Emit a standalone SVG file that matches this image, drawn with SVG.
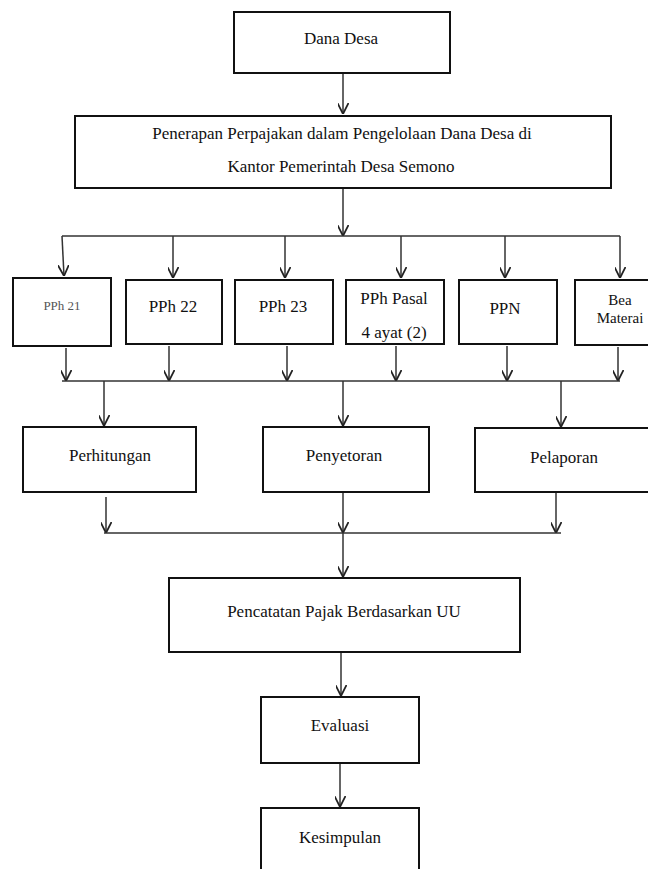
<svg xmlns="http://www.w3.org/2000/svg" width="648" height="869" viewBox="0 0 648 869">
<defs>
<marker id="ah" viewBox="0 0 10 10" refX="10" refY="5" markerWidth="11" markerHeight="11" markerUnits="userSpaceOnUse" orient="auto">
<path d="M0,0 L10,5 L0,10" fill="none" stroke="#222" stroke-width="1.6"/>
</marker>
<style>
.box{fill:#fff;stroke:#111;stroke-width:2}
.t{font-family:"Liberation Serif","Times New Roman",serif;font-size:17px;fill:#111;text-anchor:middle}
.s{font-size:13px;fill:#555}
.m{font-size:15px}
.c{fill:none;stroke:#333;stroke-width:1.5}
.a{marker-end:url(#ah)}
</style>
</defs>
<rect width="648" height="869" fill="#fff"/>
<g id="connectors">
<line class="c a" x1="343" y1="73" x2="343" y2="114"/>
<line class="c a" x1="343" y1="188" x2="343" y2="236"/>
<line class="c" x1="62" y1="236" x2="620" y2="236"/>
<path class="c a" d="M62,236 L64,276"/>
<line class="c a" x1="173" y1="236" x2="173" y2="278"/>
<line class="c a" x1="285" y1="236" x2="285" y2="278"/>
<line class="c a" x1="401" y1="236" x2="401" y2="278"/>
<line class="c a" x1="505" y1="236" x2="505" y2="278"/>
<line class="c a" x1="620" y1="236" x2="620" y2="278"/>
<line class="c a" x1="66" y1="348" x2="66" y2="381"/>
<line class="c a" x1="169" y1="346" x2="169" y2="381"/>
<line class="c a" x1="287" y1="346" x2="287" y2="381"/>
<line class="c a" x1="396" y1="346" x2="396" y2="381"/>
<line class="c a" x1="507" y1="346" x2="507" y2="381"/>
<line class="c a" x1="618" y1="347" x2="618" y2="381"/>
<line class="c" x1="62" y1="381" x2="620" y2="381"/>
<line class="c a" x1="104" y1="381" x2="104" y2="426"/>
<line class="c a" x1="343" y1="381" x2="343" y2="426"/>
<line class="c a" x1="561" y1="381" x2="561" y2="427"/>
<line class="c a" x1="106" y1="497" x2="106" y2="533"/>
<line class="c a" x1="343" y1="492" x2="343" y2="533"/>
<line class="c a" x1="556" y1="493" x2="556" y2="533"/>
<line class="c" x1="104" y1="533" x2="561" y2="533"/>
<line class="c a" x1="343" y1="533" x2="343" y2="577"/>
<line class="c a" x1="341" y1="652" x2="341" y2="696"/>
<line class="c a" x1="340" y1="763" x2="340" y2="807"/>
</g>
<g id="dana-desa"><rect class="box" x="234" y="12" width="216" height="61"/><text class="t" x="341" y="44">Dana Desa</text></g>
<g id="penerapan"><rect class="box" x="75" y="116" width="536" height="72"/><text class="t" x="342" y="139">Penerapan Perpajakan dalam Pengelolaan Dana Desa di</text><text class="t" x="341" y="172">Kantor Pemerintah Desa Semono</text></g>
<g id="pph21"><rect class="box" x="13" y="278" width="98" height="68"/><text class="t s" x="62" y="310">PPh 21</text></g>
<g id="pph22"><rect class="box" x="126" y="280" width="96" height="64"/><text class="t" x="173" y="312">PPh 22</text></g>
<g id="pph23"><rect class="box" x="235" y="280" width="98" height="64"/><text class="t" x="283" y="312">PPh 23</text></g>
<g id="pph-pasal"><rect class="box" x="346" y="280" width="98" height="64"/><text class="t" x="394" y="304">PPh Pasal</text><text class="t" x="394" y="338">4 ayat (2)</text></g>
<g id="ppn"><rect class="box" x="459" y="280" width="98" height="64"/><text class="t" x="505" y="314">PPN</text></g>
<g id="bea-materai"><rect class="box" x="575" y="280" width="98" height="65"/><text class="t m" x="620" y="305">Bea</text><text class="t m" x="620" y="323">Materai</text></g>
<g id="perhitungan"><rect class="box" x="23" y="427" width="173" height="65"/><text class="t" x="110" y="461">Perhitungan</text></g>
<g id="penyetoran"><rect class="box" x="263" y="427" width="166" height="65"/><text class="t" x="344" y="461">Penyetoran</text></g>
<g id="pelaporan"><rect class="box" x="475" y="428" width="190" height="64"/><text class="t" x="564" y="463">Pelaporan</text></g>
<g id="pencatatan"><rect class="box" x="169" y="578" width="351" height="74"/><text class="t" x="344" y="617">Pencatatan Pajak Berdasarkan UU</text></g>
<g id="evaluasi"><rect class="box" x="261" y="697" width="158" height="66"/><text class="t" x="340" y="731">Evaluasi</text></g>
<g id="kesimpulan"><rect class="box" x="261" y="808" width="158" height="70"/><text class="t" x="340" y="843">Kesimpulan</text></g>
</svg>
